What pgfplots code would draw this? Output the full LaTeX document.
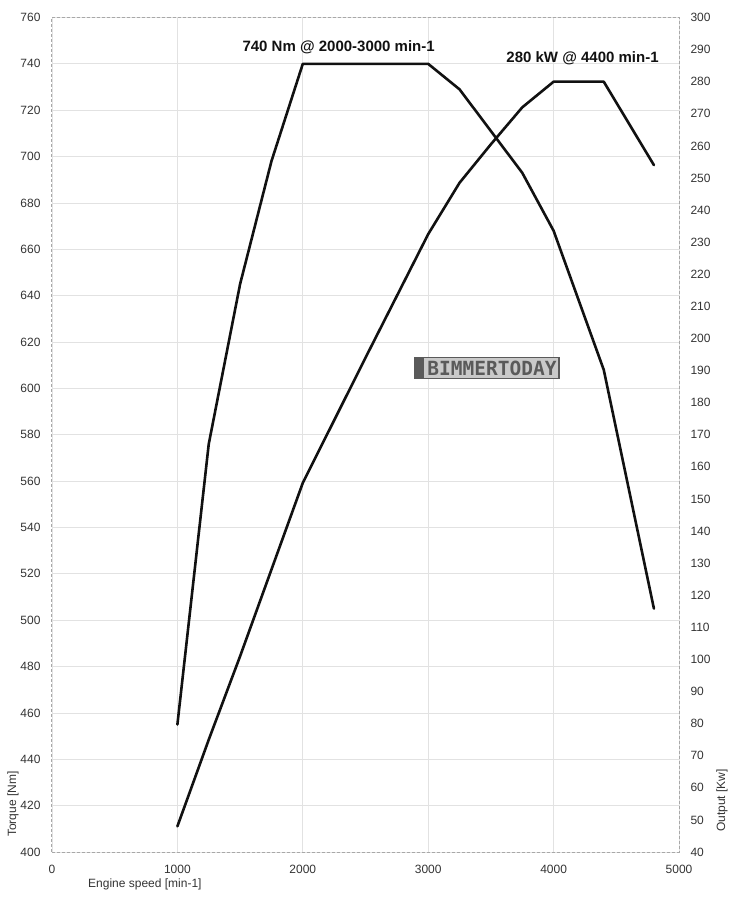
\documentclass[border=0pt]{standalone}
\usepackage{pgfplots}
\pgfplotsset{compat=1.18}
\usepackage{fontspec}
\setmainfont{Liberation Sans}
\newfontfamily\wmfont{DejaVu Sans Mono}
\definecolor{gridc}{HTML}{E2E2E2}
\definecolor{framec}{HTML}{A8A8A8}
\definecolor{tickc}{HTML}{333333}
\definecolor{curvec}{HTML}{111111}
\definecolor{wmfill}{HTML}{C9C9C9}
\definecolor{wmdark}{HTML}{5A5A5A}

\pgfplotstableread{
rpm torque
1000 455
1250 576
1500 645
1750 698
2000 740
3000 740
3250 729
3500 711
3750 693
4000 668
4400 608
4800 505
}\torquedata

\pgfplotstableread{
rpm power
1000 48
1250 75
1500 101
1750 128
2000 155
2500 194
3000 232.5
3250 248.5
3500 260.5
3750 272
4000 280
4400 280
4800 254
}\powerdata

\begin{document}
\begin{tikzpicture}[font=\fontsize{12}{14}\selectfont]
\pgfplotsset{
  common/.style={
    scale only axis, width=627pt, height=834.5pt,
    xmin=0, xmax=5000,
    major tick length=0pt,
    tick label style={color=tickc, font=\fontsize{12}{14}\selectfont},
    /pgf/number format/assume math mode=true,
    /pgf/number format/1000 sep={},
    clip=false,
  }
}
\begin{axis}[common,
  ymin=400, ymax=760,
  xtick={0,1000,...,5000}, ytick={400,420,...,760},
  grid=major, major grid style={color=gridc, line width=0.8pt},
  axis line style={color=framec, dash pattern=on 3pt off 2pt, line width=1pt},
  yticklabel style={xshift=-8pt},
  xticklabel style={yshift=-10pt},
]
\addplot[curvec, line width=2.6pt, line join=round, line cap=round] table[x=rpm, y=torque] {\torquedata};
\node[font=\fontsize{15}{17}\selectfont\bfseries, color=curvec] at (axis cs:2286,747.3) {740 Nm @ 2000-3000 min-1};
\node[font=\fontsize{15}{17}\selectfont\bfseries, color=curvec] at (axis cs:4231,742.4) {280 kW @ 4400 min-1};
\node[draw=wmdark, fill=wmfill, line width=1.5pt, minimum width=144pt, minimum height=21pt, inner sep=0pt] (wm) at (axis cs:3469,608.8) {};
\fill[wmdark] (wm.north west) rectangle ([xshift=10pt]wm.south west);
\node[anchor=east, inner sep=0pt, color=wmdark, font=\wmfont\bfseries\fontsize{19.5}{20}\selectfont] at ([xshift=-3pt]wm.east) {BIMMERTODAY};
\end{axis}
\begin{axis}[common,
  ymin=40, ymax=300,
  axis y line*=right, axis x line=none,
  ytick={40,50,...,300},
  axis line style={draw=none},
  yticklabel style={xshift=8pt},
]
\addplot[curvec, line width=2.6pt, line join=round, line cap=round] table[x=rpm, y=power] {\powerdata};
\end{axis}
\node[rotate=90, anchor=west, inner sep=0pt, color=tickc] at (-39pt,15pt) {Torque [Nm]};
\node[rotate=90, anchor=west, inner sep=0pt, color=tickc] at (670pt,20pt) {Output [Kw]};
\node[anchor=west, inner sep=0pt, color=tickc] at (36pt,-32pt) {Engine speed [min-1]};
\pgfresetboundingbox
\path[use as bounding box] (-52pt,-48pt) rectangle (683pt,852pt);
\end{tikzpicture}
\end{document}
